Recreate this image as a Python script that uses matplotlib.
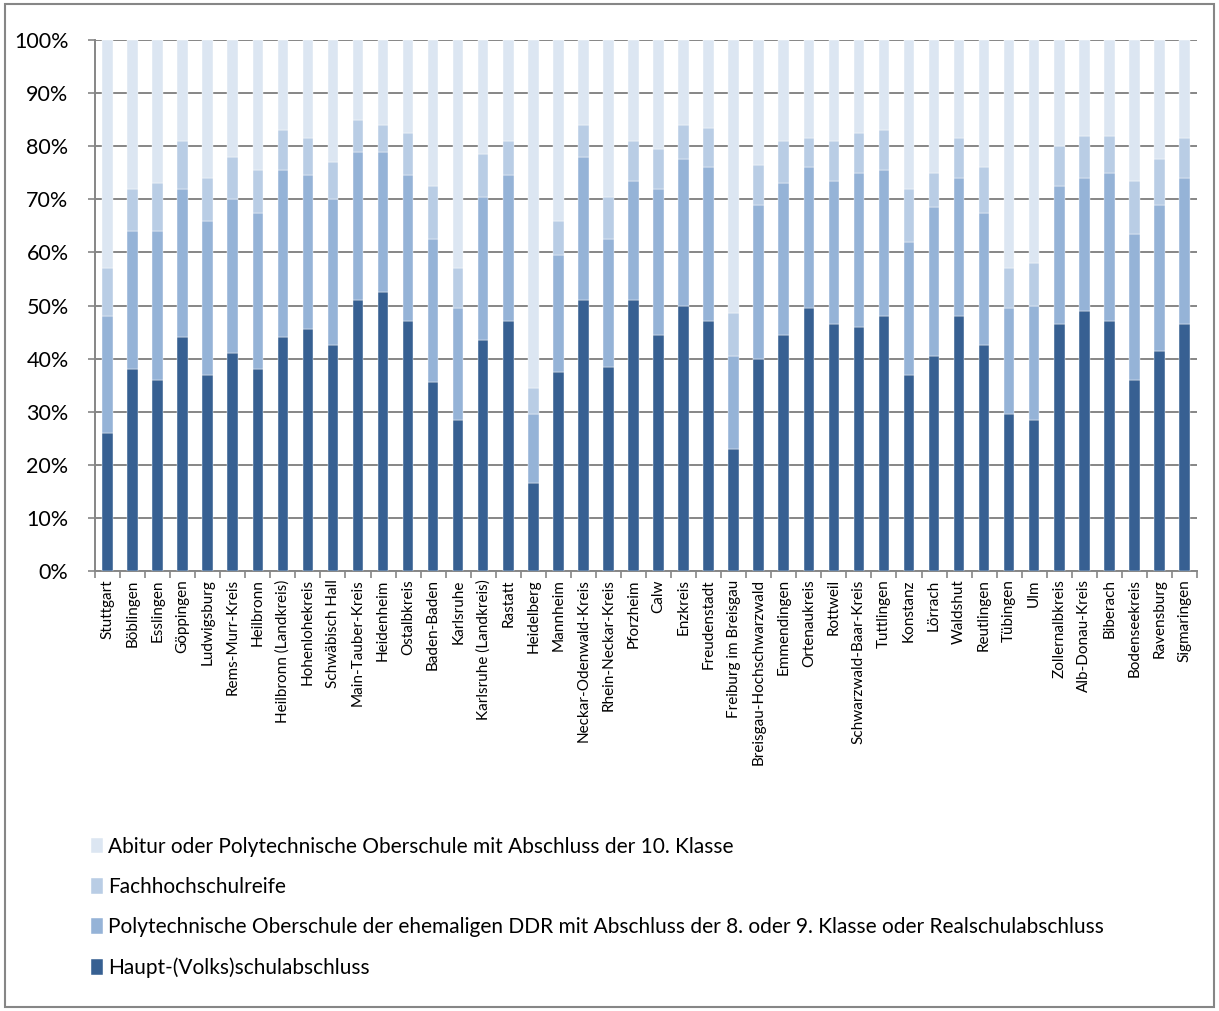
import matplotlib
matplotlib.use("Agg")
import matplotlib.pyplot as plt
import numpy as np
from matplotlib.patches import Rectangle

plt.rcParams['font.family'] = ['Lato', 'DejaVu Sans']

categories = ["Stuttgart", "Böblingen", "Esslingen", "Göppingen", "Ludwigsburg", "Rems-Murr-Kreis",
              "Heilbronn", "Heilbronn (Landkreis)", "Hohenlohekreis", "Schwäbisch Hall",
              "Main-Tauber-Kreis", "Heidenheim", "Ostalbkreis", "Baden-Baden", "Karlsruhe",
              "Karlsruhe (Landkreis)", "Rastatt", "Heidelberg", "Mannheim", "Neckar-Odenwald-Kreis",
              "Rhein-Neckar-Kreis", "Pforzheim", "Calw", "Enzkreis", "Freudenstadt",
              "Freiburg im Breisgau", "Breisgau-Hochschwarzwald", "Emmendingen", "Ortenaukreis",
              "Rottweil", "Schwarzwald-Baar-Kreis", "Tuttlingen", "Konstanz", "Lörrach", "Waldshut",
              "Reutlingen", "Tübingen", "Ulm", "Zollernalbkreis", "Alb-Donau-Kreis", "Biberach",
              "Bodenseekreis", "Ravensburg", "Sigmaringen"]

# cumulative levels (percent)
cum_haupt = [26, 38, 36, 44, 37, 41, 38, 44, 45.5, 42.5, 51, 52.5, 47, 35.5, 28.5, 43.5, 47, 16.5,
             37.5, 51, 38.5, 51, 44.5, 50, 47, 23, 40, 44.5, 49.5, 46.5, 46, 48, 37, 40.5, 48,
             42.5, 29.5, 28.5, 46.5, 49, 47, 36, 41.5, 46.5]
cum_real = [48, 64, 64, 72, 66, 70, 67.5, 75.5, 74.5, 70, 79, 79, 74.5, 62.5, 49.5, 70.5, 74.5, 29.5,
            59.5, 78, 62.5, 73.5, 72, 77.5, 76, 40.5, 69, 73, 76, 73.5, 75, 75.5, 62, 68.5, 74,
            67.5, 49.5, 50, 72.5, 74, 75, 63.5, 69, 74]
cum_fh = [57, 72, 73, 81, 74, 78, 75.5, 83, 81.5, 77, 85, 84, 82.5, 72.5, 57, 78.5, 81, 34.5,
          66, 84, 70.5, 81, 79.5, 84, 83.5, 48.5, 76.5, 81, 81.5, 81, 82.5, 83, 72, 75, 81.5,
          76, 57, 58, 80, 82, 82, 73.5, 77.5, 81.5]

haupt = np.array(cum_haupt)
real = np.array(cum_real) - haupt
fh = np.array(cum_fh) - np.array(cum_real)
abitur = 100 - np.array(cum_fh)

series_names = ["Haupt-(Volks)schulabschluss",
                "Polytechnische Oberschule der ehemaligen DDR mit Abschluss der 8. oder 9. Klasse oder Realschulabschluss",
                "Fachhochschulreife",
                "Abitur oder Polytechnische Oberschule mit Abschluss der 10. Klasse"]
colors = ["#376092", "#95B3D7", "#B9CDE5", "#DCE6F2"]

fig = plt.figure(figsize=(12.19, 10.11), dpi=100)
fig.patches.append(Rectangle((0.004, 0.004), 0.992, 0.992, transform=fig.transFigure,
                             fill=False, edgecolor="#868686", linewidth=1.5))
ax = fig.add_axes([95/1219, 1 - 571/1011, (1197-95)/1219, (571-40)/1011])

x = np.arange(len(categories))
bottom = np.zeros(len(categories))
handles = []
for vals, name, c in zip([haupt, real, fh, abitur], series_names, colors):
    b = ax.bar(x, vals, bottom=bottom, width=0.42, color=c, label=name, zorder=3,
               edgecolor="white", linewidth=0.3)
    handles.append(b)
    bottom = bottom + vals

ax.set_xlim(-0.5, len(categories) - 0.5)
ax.set_ylim(0, 100)
ax.set_yticks(np.arange(0, 101, 10))
ax.set_yticklabels([f"{v}%" for v in range(0, 101, 10)], fontsize=15.5)
ax.yaxis.grid(True, color="#868686", linewidth=1.4, zorder=0)
ax.set_axisbelow(True)
ax.set_xticks(x)
ax.set_xticklabels(categories, rotation=90, fontsize=11)
ax.set_xticks(np.arange(-0.5, len(categories), 1), minor=True)
ax.tick_params(axis='x', which='major', length=0, pad=6)
ax.tick_params(axis='x', which='minor', length=5, color="#868686", width=1.2)
ax.tick_params(axis='y', length=5, color="#868686", width=1.2, pad=14)
for s in ['top', 'right']:
    ax.spines[s].set_visible(False)
for s in ['left', 'bottom']:
    ax.spines[s].set_color("#868686")
    ax.spines[s].set_linewidth(1.4)

leg = fig.legend(handles[::-1], series_names[::-1], loc='upper left',
                 bbox_to_anchor=(72/1219, 1 - 818/1011), frameon=False, fontsize=15,
                 handlelength=0.6, handleheight=0.8, handletextpad=0.25, labelspacing=0.97)

fig.savefig("out.png", dpi=100)
